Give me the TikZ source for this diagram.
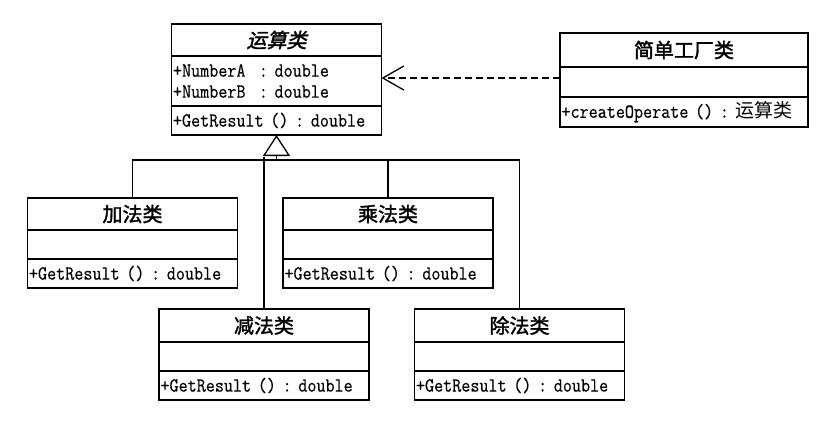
\documentclass[tikz,border=0pt]{standalone}
\usepackage{fontspec}
\newfontfamily\cjkfont{Noto Sans CJK SC}
\newfontfamily\cjkbold[FakeBold=1.8]{Noto Sans CJK SC}
\newfontfamily\cjkslant[FakeBold=1.8,FakeSlant=0.25]{Noto Sans CJK SC}
\newfontfamily\umlmono[FakeStretch=0.88,FakeBold=0.4]{Latin Modern Mono}
\usetikzlibrary{positioning,arrows.meta}

\tikzset{
  classtitle/.style={draw, line width=1.6pt, outer sep=0pt, inner sep=0pt,
    minimum width=210pt, minimum height=32pt, font=\cjkbold\fontsize{20}{22}\selectfont},
  classpart/.style={draw, line width=1.6pt, outer sep=0pt, inner xsep=1.5pt, inner ysep=0pt,
    text width=207pt, minimum height=29pt, align=left, font=\umlmono\fontsize{20}{21}\selectfont},
  dependency/.style={line width=1.3pt, dash pattern=on 7pt off 4pt,
    -{Straight Barb[length=21pt,width=24pt,line width=1.3pt]}},
  inherit/.style={line width=1.3pt, -{Triangle[open,length=21pt,width=27pt,line width=1.3pt]}},
  bus/.style={line width=1.3pt}
}

\begin{document}
\begin{tikzpicture}[x=1pt,y=-1pt]
          \useasboundingbox (0,0) rectangle (827,432);
          % abstract class
          \node[classtitle] (base) at (276.5,40) {\cjkslant 运算类};
          \node[classpart, minimum height=50pt, below=0pt of base] (base-attr) {+NumberA~~:~double\\+NumberB~~:~double};
          \node[classpart, below=0pt of base-attr] (base-op) {+GetResult~()~:~double};
          % factory
          \node[classtitle, minimum width=248pt, minimum height=34pt] (factory) at (684,50) {简单工厂类};
          \node[classpart, text width=245pt, minimum height=30pt, below=0pt of factory] (factory-attr) {};
          \node[classpart, text width=245pt, minimum height=30pt, below=0pt of factory-attr] (factory-op) {+createOperate~()~:~{\cjkfont\fontsize{19}{21}\selectfont 运算类}};
          % subclasses
          \node[classtitle] (add) at (132.5,214) {加法类};
          \node[classpart, below=0pt of add] (add-attr) {};
          \node[classpart, below=0pt of add-attr] (add-op) {+GetResult~()~:~double};
          \node[classtitle] (mul) at (388,214) {乘法类};
          \node[classpart, below=0pt of mul] (mul-attr) {};
          \node[classpart, below=0pt of mul-attr] (mul-op) {+GetResult~()~:~double};
          \node[classtitle, minimum height=33pt] (sub) at (264,325.5) {减法类};
          \node[classpart, below=0pt of sub] (sub-attr) {};
          \node[classpart, below=0pt of sub-attr] (sub-op) {+GetResult~()~:~double};
          \node[classtitle, minimum height=33pt] (div) at (519.5,325.5) {除法类};
          \node[classpart, below=0pt of div] (div-attr) {};
          \node[classpart, below=0pt of div-attr] (div-op) {+GetResult~()~:~double};
          % connectors
          \coordinate (joint) at (0,160);
          \coordinate (uses) at ([yshift=4pt]factory-attr.west);
          \draw[dependency] (uses) -- (uses -| base-attr.east);
          \draw[inherit] (base-op.south |- joint) -- (base-op.south);
          \draw[bus] (add.north) -- (add.north |- joint) -- (div.north |- joint) -- (div.north);
          \draw[bus] (mul.north) -- (mul.north |- joint);
          \draw[bus] (sub.north) -- ([yshift=3pt]sub.north |- joint);
        \end{tikzpicture}
\end{document}
